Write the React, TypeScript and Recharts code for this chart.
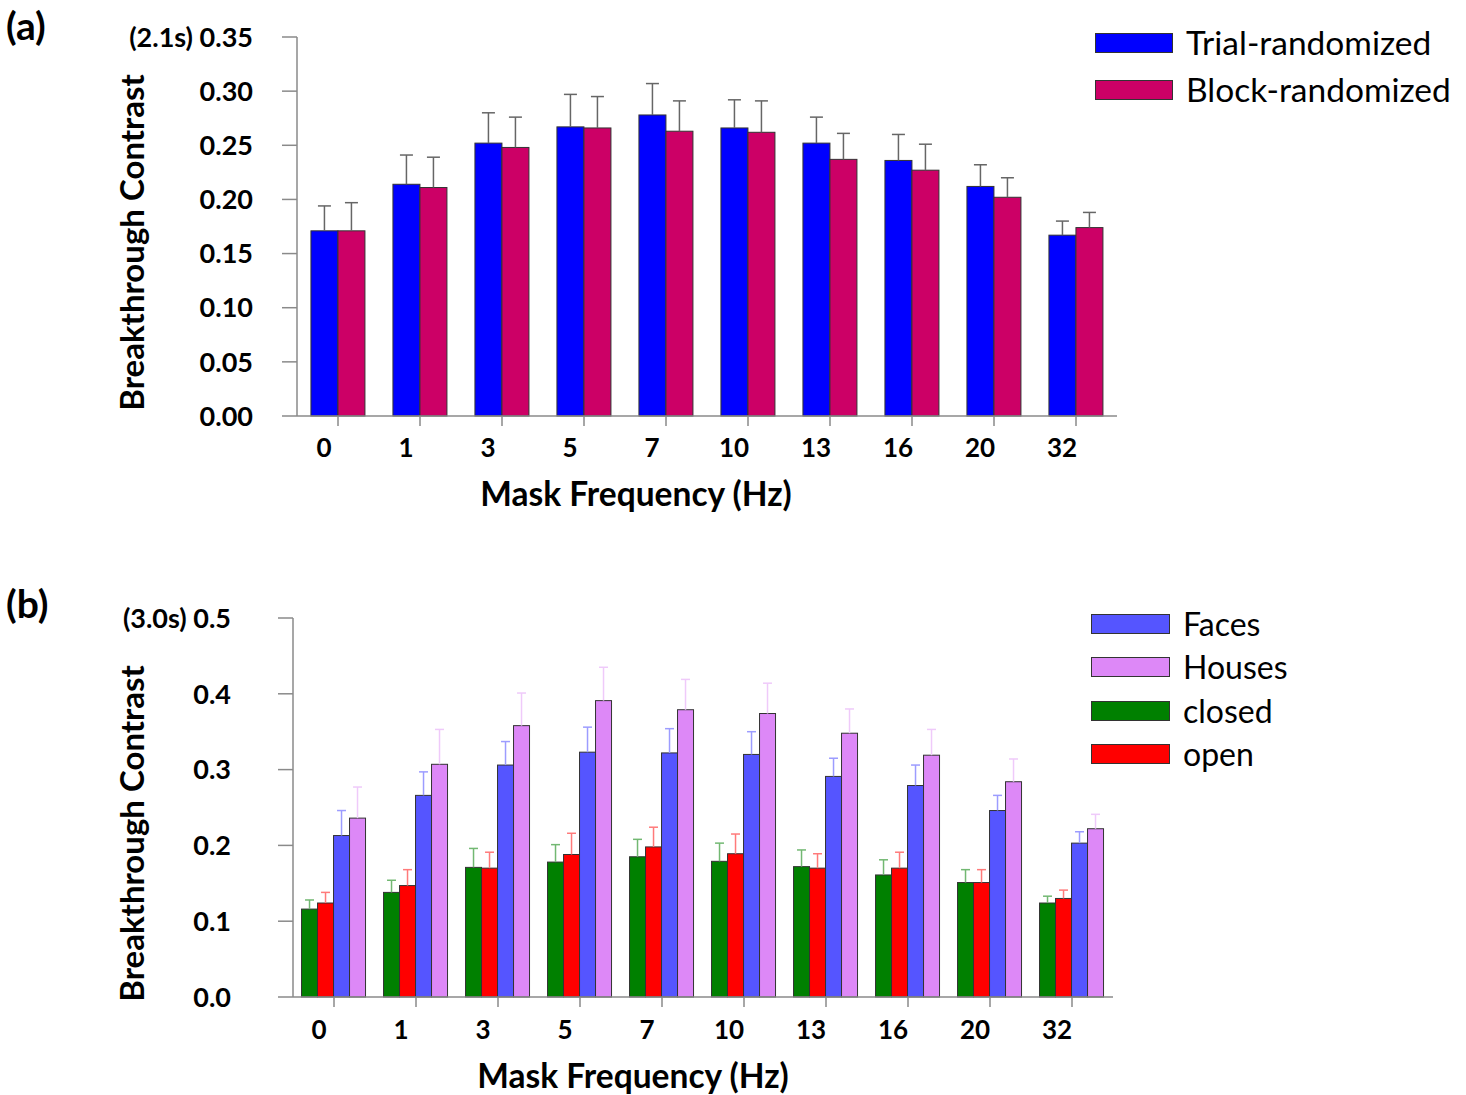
import React from "react";
import { BarChart, Bar, XAxis, YAxis, Legend } from "recharts";

// mask frequencies (Hz)
const categories = ["0", "1", "3", "5", "7", "10", "13", "16", "20", "32"];

// panel (a): 2.1 s
const trialMean = [0.171, 0.214, 0.252, 0.267, 0.278, 0.266, 0.252, 0.236, 0.212, 0.167];
const trialErr = [0.023, 0.027, 0.028, 0.030, 0.029, 0.026, 0.024, 0.024, 0.020, 0.013];
const blockMean = [0.171, 0.211, 0.248, 0.266, 0.263, 0.262, 0.237, 0.227, 0.202, 0.174];
const blockErr = [0.026, 0.028, 0.028, 0.029, 0.028, 0.029, 0.024, 0.024, 0.018, 0.014];
const ticksA = [0, 0.05, 0.1, 0.15, 0.2, 0.25, 0.3, 0.35];

// panel (b): 3.0 s
const closedMean = [0.116, 0.138, 0.171, 0.178, 0.185, 0.179, 0.172, 0.161, 0.151, 0.124];
const closedErr = [0.012, 0.016, 0.025, 0.023, 0.023, 0.024, 0.022, 0.020, 0.017, 0.009];
const openMean = [0.124, 0.147, 0.170, 0.188, 0.198, 0.189, 0.170, 0.170, 0.151, 0.130];
const openErr = [0.014, 0.021, 0.021, 0.028, 0.026, 0.026, 0.019, 0.021, 0.017, 0.011];
const facesMean = [0.213, 0.266, 0.306, 0.323, 0.322, 0.320, 0.291, 0.279, 0.246, 0.203];
const facesErr = [0.033, 0.031, 0.031, 0.033, 0.032, 0.030, 0.024, 0.027, 0.020, 0.015];
const housesMean = [0.236, 0.307, 0.358, 0.391, 0.379, 0.374, 0.348, 0.319, 0.284, 0.222];
const housesErr = [0.041, 0.046, 0.043, 0.044, 0.040, 0.040, 0.032, 0.034, 0.030, 0.019];
const ticksB = [0, 0.1, 0.2, 0.3, 0.4, 0.5];

const legendA = [
  { label: "Trial-randomized", color: "#0000FF" },
  { label: "Block-randomized", color: "#CC0066" },
];
const legendB = [
  { label: "Faces", color: "#5555FF" },
  { label: "Houses", color: "#DD88F7" },
  { label: "closed", color: "#008000" },
  { label: "open", color: "#FF0000" },
];

const dataA = categories.map((c, i) => ({
  freq: c,
  trial: trialMean[i],
  trialErr: trialErr[i],
  block: blockMean[i],
  blockErr: blockErr[i],
}));

const dataB = categories.map((c, i) => ({
  freq: c,
  closed: closedMean[i],
  closedErr: closedErr[i],
  open: openMean[i],
  openErr: openErr[i],
  faces: facesMean[i],
  facesErr: facesErr[i],
  houses: housesMean[i],
  housesErr: housesErr[i],
}));

const FONT = "Lato, 'Open Sans', sans-serif";
const AXIS = "#8a8a8a";

// bar + upper-only error whisker, length taken from the bar's own px/unit
function barWithErr(meanKey: string, errKey: string, errColor: string, capW: number) {
  return (p: any) => {
    const { x, y, width, height, fill, payload } = p;
    const v = payload[meanKey];
    const e = payload[errKey];
    const pxPerUnit = v ? height / v : 0;
    const top = y - e * pxPerUnit;
    const cx = x + width / 2;
    return (
      <g>
        <rect x={x} y={y} width={width} height={height} fill={fill} stroke="#333" strokeWidth={1} />
        <line x1={cx} x2={cx} y1={y} y2={top} stroke={errColor} strokeWidth={1.5} />
        <line x1={cx - capW / 2} x2={cx + capW / 2} y1={top} y2={top} stroke={errColor} strokeWidth={1.5} />
      </g>
    );
  };
}

const YTick = (props: any) => {
  const { x, y, payload, top, prefix, digits } = props;
  const txt = payload.value.toFixed(digits);
  return (
    <text x={x} y={y} dy="0.36em" textAnchor="end" fontFamily={FONT} fontWeight={700} fontSize={27} fill="#000">
      {payload.value === top ? `${prefix} ${txt}` : txt}
    </text>
  );
};

const XTick = (props: any) => {
  const { x, y, payload, shift, drop } = props;
  return (
    <text x={x + shift} y={y + drop} textAnchor="middle" fontFamily={FONT} fontWeight={700} fontSize={26} fill="#000">
      {payload.value}
    </text>
  );
};

const YTitle = (props: any) => {
  const { viewBox, shift } = props;
  const cx = 131;
  const cy = viewBox.y + viewBox.height / 2 + shift;
  return (
    <text
      x={cx}
      y={cy}
      transform={`rotate(-90 ${cx} ${cy})`}
      textAnchor="middle"
      dominantBaseline="central"
      fontFamily={FONT}
      fontWeight={700}
      fontSize={33}
      fill="#000"
    >
      Breakthrough Contrast
    </text>
  );
};

const XTitle = (props: any) => {
  const { viewBox, shift, drop } = props;
  return (
    <text
      x={viewBox.x + viewBox.width / 2 + shift}
      y={viewBox.y + drop}
      textAnchor="middle"
      fontFamily={FONT}
      fontWeight={700}
      fontSize={33.5}
      fill="#000"
    >
      Mask Frequency (Hz)
    </text>
  );
};

function LegendBox({ items, pitch, swW, swH, fontSize }: any) {
  return (
    <div style={{ fontFamily: FONT }}>
      {items.map((it: any) => (
        <div key={it.label} style={{ display: "flex", alignItems: "center", height: pitch }}>
          <div
            style={{
              width: swW,
              height: swH,
              background: it.color,
              border: "1.5px solid #333",
              boxSizing: "border-box",
              marginRight: 13,
            }}
          />
          <span style={{ fontSize, color: "#000", lineHeight: 1 }}>{it.label}</span>
        </div>
      ))}
    </div>
  );
}

const panelLabel: React.CSSProperties = {
  position: "absolute",
  fontFamily: FONT,
  fontWeight: 700,
  fontSize: 39,
  lineHeight: 1,
};

export default function App() {
  return (
    <div style={{ position: "absolute", left: 0, top: 0, width: 1466, height: 1095, background: "#fff" }}>
      <div style={{ ...panelLabel, left: 6, top: 6 }}>(a)</div>
      <div style={{ ...panelLabel, left: 6, top: 584 }}>(b)</div>

      <div style={{ position: "absolute", left: 0, top: 0 }}>
        <BarChart
          width={1466}
          height={540}
          data={dataA}
          margin={{ top: 37, right: 349, bottom: 0, left: 0 }}
          barCategoryGap="17%"
          barGap={0}
        >
          <XAxis
            dataKey="freq"
            height={124}
            tickSize={10}
            tickMargin={0}
            axisLine={{ stroke: AXIS, strokeWidth: 1.5 }}
            tickLine={{ stroke: AXIS, strokeWidth: 1.5 }}
            tick={<XTick shift={-14} drop={31} />}
            label={<XTitle shift={-71} drop={90} />}
          />
          <YAxis
            width={297}
            domain={[0, 0.35]}
            ticks={ticksA}
            tickSize={15}
            tickMargin={29}
            axisLine={{ stroke: AXIS, strokeWidth: 1.5 }}
            tickLine={{ stroke: AXIS, strokeWidth: 1.5 }}
            tick={<YTick top={0.35} prefix="(2.1s)" digits={2} />}
            label={<YTitle shift={16} />}
          />
          <Legend
            layout="vertical"
            align="center"
            verticalAlign="middle"
            wrapperStyle={{ position: "absolute", left: 1095, top: 19, width: "auto" }}
            content={() => <LegendBox items={legendA} pitch={47} swW={78} swH={20} fontSize={33.5} />}
          />
          <Bar dataKey="trial" fill="#0000FF" isAnimationActive={false} shape={barWithErr("trial", "trialErr", "#666", 13)} />
          <Bar dataKey="block" fill="#CC0066" isAnimationActive={false} shape={barWithErr("block", "blockErr", "#666", 13)} />
        </BarChart>
      </div>

      <div style={{ position: "absolute", left: 0, top: 540 }}>
        <BarChart
          width={1466}
          height={555}
          data={dataB}
          margin={{ top: 78, right: 353, bottom: 0, left: 0 }}
          barCategoryGap="10.4%"
          barGap={0}
        >
          <XAxis
            dataKey="freq"
            height={98}
            tickSize={10}
            tickMargin={0}
            axisLine={{ stroke: AXIS, strokeWidth: 1.5 }}
            tickLine={{ stroke: AXIS, strokeWidth: 1.5 }}
            tick={<XTick shift={-15} drop={32} />}
            label={<XTitle shift={-70} drop={91} />}
          />
          <YAxis
            width={293}
            domain={[0, 0.5]}
            ticks={ticksB}
            tickSize={15}
            tickMargin={47}
            axisLine={{ stroke: AXIS, strokeWidth: 1.5 }}
            tickLine={{ stroke: AXIS, strokeWidth: 1.5 }}
            tick={<YTick top={0.5} prefix="(3.0s)" digits={1} />}
            label={<YTitle shift={26} />}
          />
          <Legend
            layout="vertical"
            align="center"
            verticalAlign="middle"
            wrapperStyle={{ position: "absolute", left: 1091, top: 62, width: "auto" }}
            content={() => <LegendBox items={legendB} pitch={43.5} swW={79} swH={20} fontSize={32} />}
          />
          <Bar dataKey="closed" fill="#008000" isAnimationActive={false} shape={barWithErr("closed", "closedErr", "#72b872", 9)} />
          <Bar dataKey="open" fill="#FF0000" isAnimationActive={false} shape={barWithErr("open", "openErr", "#ff7a7a", 9)} />
          <Bar dataKey="faces" fill="#5555FF" isAnimationActive={false} shape={barWithErr("faces", "facesErr", "#9c9cff", 9)} />
          <Bar dataKey="houses" fill="#DD88F7" isAnimationActive={false} shape={barWithErr("houses", "housesErr", "#efcafa", 9)} />
        </BarChart>
      </div>
    </div>
  );
}
